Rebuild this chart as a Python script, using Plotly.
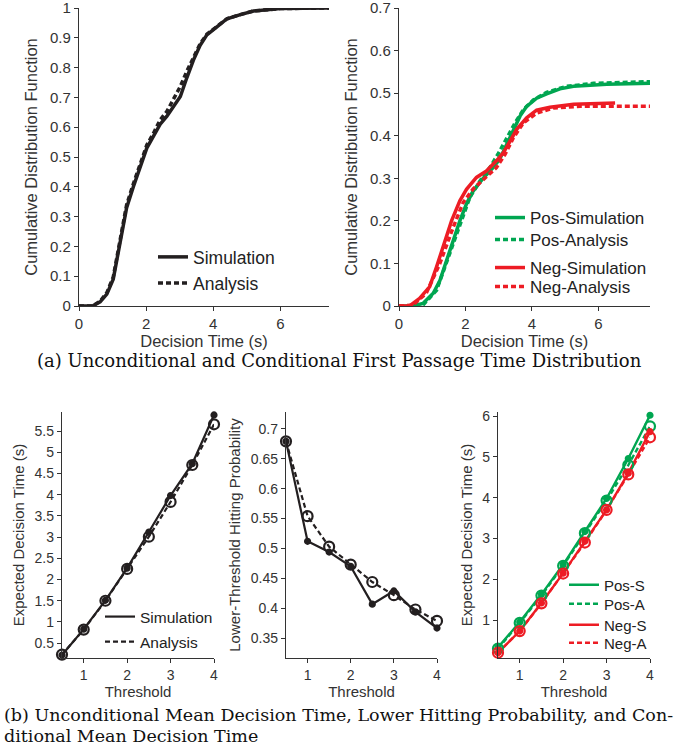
import plotly.graph_objects as go

# ---- top row: first passage time CDFs ----
t_sim = [0, 0.4, 0.63, 0.83, 1.02, 1.17, 1.27, 1.42, 1.62, 1.82, 2.02, 2.22, 2.42, 2.62, 2.82,
         3.02, 3.21, 3.41, 3.61, 3.81, 4.11, 4.41, 4.81, 5.2, 6.0, 7.45]
cdf_sim = [0, 0, 0.014, 0.04, 0.09, 0.18, 0.24, 0.33, 0.40, 0.465, 0.53, 0.57, 0.61, 0.637, 0.67,
           0.703, 0.765, 0.825, 0.875, 0.91, 0.937, 0.964, 0.978, 0.99, 0.998, 1.0]
t_ana = [0, 0.4, 0.63, 0.83, 1.02, 1.17, 1.27, 1.42, 1.62, 1.82, 2.02, 2.22, 2.42, 2.62, 2.82,
         3.02, 3.21, 3.41, 3.61, 3.81, 4.11, 4.41, 4.81, 5.2, 6.0, 7.45]
cdf_ana = [0, 0, 0.016, 0.045, 0.097, 0.19, 0.25, 0.34, 0.41, 0.475, 0.54, 0.58, 0.625, 0.653, 0.698,
           0.737, 0.787, 0.837, 0.88, 0.912, 0.938, 0.964, 0.978, 0.99, 0.998, 1.0]

t_pos_sim = [0, 0.42, 0.72, 1.03, 1.23, 1.43, 1.63, 1.83, 2.03, 2.23, 2.53, 2.83, 3.03, 3.24, 3.44,
             3.64, 3.84, 4.14, 4.44, 4.84, 5.25, 6.25, 7.55]
pos_sim = [0, 0, 0.006, 0.03, 0.06, 0.107, 0.154, 0.2, 0.24, 0.27, 0.30, 0.325, 0.345, 0.38, 0.414,
           0.446, 0.469, 0.488, 0.498, 0.51, 0.516, 0.521, 0.523]
t_pos_ana = [0, 0.42, 0.72, 1.13, 1.53, 1.83, 2.13, 2.43, 2.73, 2.98, 3.24, 3.49, 3.74, 4.04, 4.44,
             5.04, 5.85, 7.55]
pos_ana = [0, 0, 0.002, 0.037, 0.123, 0.19, 0.255, 0.293, 0.325, 0.357, 0.395, 0.43, 0.461, 0.484,
           0.502, 0.516, 0.523, 0.527]
t_neg_sim = [0, 0.32, 0.62, 0.92, 1.13, 1.33, 1.58, 1.83, 2.03, 2.33, 2.63, 2.93, 3.14, 3.34, 3.54,
             3.84, 4.14, 4.54, 5.25, 6.5]
neg_sim = [0, 0, 0.018, 0.045, 0.092, 0.138, 0.2, 0.247, 0.274, 0.302, 0.317, 0.341, 0.36, 0.387,
           0.415, 0.442, 0.46, 0.467, 0.474, 0.477]
t_neg_ana = [0, 0.42, 0.82, 1.23, 1.63, 1.93, 2.23, 2.63, 2.93, 3.19, 3.44, 3.74, 4.14, 4.64, 5.45, 7.55]
neg_ana = [0, 0.002, 0.03, 0.1, 0.185, 0.243, 0.275, 0.302, 0.325, 0.356, 0.395, 0.43, 0.453, 0.465,
           0.469, 0.469]

# ---- bottom row: vs threshold ----
threshold = [0.5, 1, 1.5, 2, 2.5, 3, 3.5, 4]
mean_sim = [0.22, 0.83, 1.51, 2.27, 3.12, 3.98, 4.73, 5.88]
mean_ana = [0.23, 0.82, 1.50, 2.25, 3.01, 3.83, 4.70, 5.66]
lower_sim = [0.679, 0.512, 0.494, 0.470, 0.407, 0.429, 0.394, 0.367]
lower_ana = [0.679, 0.554, 0.503, 0.473, 0.444, 0.422, 0.398, 0.379]
pos_mean_sim = [0.33, 0.95, 1.63, 2.36, 3.17, 3.98, 4.96, 6.02]
pos_mean_ana = [0.30, 0.93, 1.60, 2.33, 3.13, 3.93, 4.80, 5.75]
neg_mean_sim = [0.20, 0.73, 1.42, 2.15, 2.93, 3.70, 4.60, 5.62]
neg_mean_ana = [0.20, 0.73, 1.41, 2.14, 2.90, 3.70, 4.57, 5.48]

BLACK = '#231f20'
GREEN = '#00a651'
RED = '#ed1c24'
DASH = '5px,3px'
W, H = 679, 747

def px(x0, x1):
    return [x0 / W, x1 / W]

def py(top, bottom):
    return [1 - bottom / H, 1 - top / H]

fig = go.Figure()
legends = {}

def line(x, y, name, color, dash, xa, ya, width, leg=None):
    # leg = (text left px, text centre y px, font size) -> one small legend per entry
    show = leg is not None
    key = 'legend'
    if show:
        n = len(legends) + 1
        key = 'legend' if n == 1 else 'legend%d' % n
        lx, ly, fs = leg
        legends[key] = dict(x=(lx - 40) / W, y=1 - ly / H, xanchor='left', yanchor='middle',
                            bgcolor='rgba(0,0,0,0)', font=dict(size=fs, color='#222'), itemwidth=30)
    fig.add_trace(go.Scatter(x=x, y=y, name=name, mode='lines',
                             line=dict(color=color, width=width, dash=dash),
                             xaxis=xa, yaxis=ya, legend=key, showlegend=show,
                             cliponaxis=False))

def marks(x, y, color, symbol, size, xa, ya):
    fig.add_trace(go.Scatter(x=x, y=y, mode='markers', showlegend=False,
                             marker=dict(color=color, symbol=symbol, size=size,
                                         line=dict(color=color, width=2.2)),
                             xaxis=xa, yaxis=ya, cliponaxis=False))

# top left
line(t_sim, cdf_sim, 'Simulation', BLACK, 'solid', 'x', 'y', 3.5, (193, 257, 17.5))
line(t_ana, cdf_ana, 'Analysis', BLACK, DASH, 'x', 'y', 3.5, (193, 283, 17.5))
# top right
line(t_pos_sim, pos_sim, 'Pos-Simulation', GREEN, 'solid', 'x2', 'y2', 3.5, (530, 218, 17))
line(t_pos_ana, pos_ana, 'Pos-Analysis', GREEN, DASH, 'x2', 'y2', 3.5, (530, 240, 17))
line(t_neg_sim, neg_sim, 'Neg-Simulation', RED, 'solid', 'x2', 'y2', 3.5, (530, 268, 17))
line(t_neg_ana, neg_ana, 'Neg-Analysis', RED, DASH, 'x2', 'y2', 3.5, (530, 287, 17))

# bottom left
line(threshold, mean_sim, 'Simulation', BLACK, 'solid', 'x3', 'y3', 2.2, (140, 617, 15.5))
line(threshold, mean_ana, 'Analysis', BLACK, DASH, 'x3', 'y3', 2.2, (140, 642, 15.5))
marks(threshold, mean_sim, BLACK, 'circle', 5, 'x3', 'y3')
marks(threshold, mean_ana, BLACK, 'circle-open', 10, 'x3', 'y3')
# bottom middle
line(threshold, lower_sim, 'Simulation', BLACK, 'solid', 'x4', 'y4', 2.2)
line(threshold, lower_ana, 'Analysis', BLACK, DASH, 'x4', 'y4', 2.2)
marks(threshold, lower_sim, BLACK, 'circle', 5, 'x4', 'y4')
marks(threshold, lower_ana, BLACK, 'circle-open', 10, 'x4', 'y4')
# bottom right
line(threshold, pos_mean_sim, 'Pos-S', GREEN, 'solid', 'x5', 'y5', 2.4, (604, 585, 15))
line(threshold, pos_mean_ana, 'Pos-A', GREEN, DASH, 'x5', 'y5', 2.4, (604, 604, 15))
line(threshold, neg_mean_sim, 'Neg-S', RED, 'solid', 'x5', 'y5', 2.4, (604, 625, 15))
line(threshold, neg_mean_ana, 'Neg-A', RED, DASH, 'x5', 'y5', 2.4, (604, 643, 15))
marks(threshold, pos_mean_sim, GREEN, 'circle', 5, 'x5', 'y5')
marks(threshold, pos_mean_ana, GREEN, 'circle-open', 10, 'x5', 'y5')
marks(threshold, neg_mean_sim, RED, 'circle', 5, 'x5', 'y5')
marks(threshold, neg_mean_ana, RED, 'circle-open', 10, 'x5', 'y5')

AX = dict(showline=True, linecolor='#333', linewidth=1.3, ticks='outside', ticklen=4,
          tickcolor='#333', showgrid=False, zeroline=False, automargin=False,
          ticklabeloverflow='allow', tickfont=dict(size=15, color='#333'))
AXS = dict(AX, tickfont=dict(size=14, color='#333'))
TOP_T = dict(size=16.5, color='#333')
BOT_T = dict(size=15, color='#333')

cdf_ticks = [0, 0.1, 0.2, 0.3, 0.4, 0.5, 0.6, 0.7, 0.8, 0.9, 1]
cdf_ticktext = ['0', '0.1', '0.2', '0.3', '0.4', '0.5', '0.6', '0.7', '0.8', '0.9', '1']

fig.update_layout(
    width=W, height=H, margin=dict(l=0, r=0, t=0, b=0),
    plot_bgcolor='white', paper_bgcolor='white',
    font=dict(family='Liberation Sans, Arial, sans-serif', color='#333'),
    xaxis=dict(AX, domain=px(79, 329), range=[0, 7.45], tickvals=[0, 2, 4, 6], anchor='y',
               title=dict(text='Decision Time (s)', font=TOP_T, standoff=2)),
    yaxis=dict(AX, domain=py(8, 306), range=[0, 1], tickvals=cdf_ticks, ticktext=cdf_ticktext, anchor='x',
               title=dict(text='Cumulative Distribution Function', font=TOP_T, standoff=8)),
    xaxis2=dict(AX, domain=px(399, 650), range=[0, 7.55], tickvals=[0, 2, 4, 6], anchor='y2',
                title=dict(text='Decision Time (s)', font=TOP_T, standoff=2)),
    yaxis2=dict(AX, domain=py(8, 306), range=[0, 0.7], tickvals=cdf_ticks[:8], ticktext=cdf_ticktext[:8],
                anchor='x2', title=dict(text='Cumulative Distribution Function', font=TOP_T, standoff=8)),
    xaxis3=dict(AXS, domain=px(62, 214), range=[0.5, 4], tickvals=[1, 2, 3, 4], anchor='y3',
                title=dict(text='Threshold', font=BOT_T, standoff=0)),
    yaxis3=dict(AXS, domain=py(412, 658), range=[0.15, 5.95],
                tickvals=[0.5, 1, 1.5, 2, 2.5, 3, 3.5, 4, 4.5, 5, 5.5],
                ticktext=['0.5', '1', '1.5', '2', '2.5', '3', '3.5', '4', '4.5', '5', '5.5'], anchor='x3',
                title=dict(text='Expected Decision Time (s)', font=BOT_T, standoff=6)),
    xaxis4=dict(AXS, domain=px(286, 437), range=[0.5, 4], tickvals=[1, 2, 3, 4], anchor='y4',
                title=dict(text='Threshold', font=BOT_T, standoff=0)),
    yaxis4=dict(AXS, domain=py(412, 658), range=[0.317, 0.728],
                tickvals=[0.35, 0.4, 0.45, 0.5, 0.55, 0.6, 0.65, 0.7],
                ticktext=['0.35', '0.4', '0.45', '0.5', '0.55', '0.6', '0.65', '0.7'], anchor='x4',
                title=dict(text='Lower-Threshold Hitting Probability', font=BOT_T, standoff=6)),
    xaxis5=dict(AXS, domain=px(498, 650), range=[0.5, 4], tickvals=[1, 2, 3, 4], anchor='y5',
                title=dict(text='Threshold', font=BOT_T, standoff=0)),
    yaxis5=dict(AXS, domain=py(412, 658), range=[0.07, 6.1], tickvals=[1, 2, 3, 4, 5, 6], anchor='x5',
                title=dict(text='Expected Decision Time (s)', font=BOT_T, standoff=6)),
    **legends,
)

SERIF = 'DejaVu Serif, Liberation Serif, serif'
fig.add_annotation(text='(a) Unconditional and Conditional First Passage Time Distribution',
                   x=0.5, y=1 - 360 / H, xref='paper', yref='paper', yanchor='middle', showarrow=False,
                   font=dict(family=SERIF, size=18, color='#111'))
fig.add_annotation(text='(b) Unconditional Mean Decision Time, Lower Hitting Probability, and Con-',
                   x=2 / W, y=1 - 715 / H, xref='paper', yref='paper', xanchor='left', yanchor='middle',
                   showarrow=False, font=dict(family=SERIF, size=17.5, color='#111'))
fig.add_annotation(text='ditional Mean Decision Time',
                   x=2 / W, y=1 - 736 / H, xref='paper', yref='paper', xanchor='left', yanchor='middle',
                   showarrow=False, font=dict(family=SERIF, size=17.5, color='#111'))

# drop the default 8px page margin so the figure sits at the window's corner
fig.write_html("out.html", config={'displayModeBar': False},
               post_script="document.body.style.margin='0';")
